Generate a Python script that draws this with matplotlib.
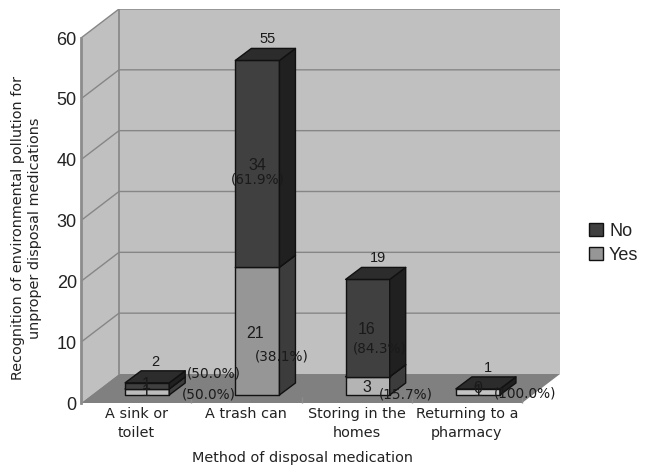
import matplotlib
matplotlib.use('Agg')
import matplotlib.pyplot as plt
from matplotlib.patches import Polygon, Patch

# data
categories = ['A sink or\ntoilet', 'A trash can', 'Storing in the\nhomes', 'Returning to a\npharmacy']
yes_counts = [1, 21, 3, 0]
no_counts = [1, 34, 16, 1]
totals = [2, 55, 19, 1]
yes_pct = ['(50.0%)', '(38.1%)', '(15.7%)', '']
no_pct = ['(50.0%)', '(61.9%)', '(84.3%)', '(100.0%)']

# face colours, front face differs a bit from bar to bar
yes_front = ['#bcbcbc', '#969696', '#b4b4b4', '#c4c4c4']
no_front = ['#404040', '#404040', '#404040', '#c4c4c4']
yes_side = '#3c3c3c'
no_side = '#202020'
top_col = '#2c2c2c'

W, H = 648, 468
PX_X = 110.25  # pixels per category
PX_Y = 6.083   # pixels per count
wall_dx = 38 / PX_X
wall_dy = 29 / PX_Y
bar_dx = 16 / PX_X
bar_dy = 12 / PX_Y
bar_x0 = 0.4
bar_w = 0.4
bar_y0 = 8 / PX_Y

fig = plt.figure(figsize=(W / 100, H / 100), dpi=100, facecolor='white')
ax = fig.add_axes([81 / W, (H - 403) / H, 479 / W, 394 / H])
ax.set_xlim(0, 4 + wall_dx)
ax.set_ylim(0, 60 + wall_dy)
for s in ax.spines.values():
    s.set_visible(False)
ax.patch.set_visible(False)

# walls and floor
ax.add_patch(Polygon([(wall_dx, wall_dy), (4 + wall_dx, wall_dy), (4 + wall_dx, 60 + wall_dy), (wall_dx, 60 + wall_dy)],
                     fc='#c0c0c0', ec='none', zorder=1))
ax.add_patch(Polygon([(0, 0), (wall_dx, wall_dy), (wall_dx, 60 + wall_dy), (0, 60)],
                     fc='#c0c0c0', ec='none', zorder=1))
ax.add_patch(Polygon([(0, 0), (4, 0), (4 + wall_dx, wall_dy), (wall_dx, wall_dy)],
                     fc='#808080', ec='none', zorder=1))

# gridlines run across the back wall and down the side wall
for v in range(10, 61, 10):
    ax.plot([0, wall_dx, 4 + wall_dx], [v, v + wall_dy, v + wall_dy], color='#868686', lw=1, zorder=2)
ax.plot([wall_dx, wall_dx], [wall_dy, 60 + wall_dy], color='#868686', lw=1.2, zorder=2)
ax.plot([0, 0], [0, 60], color='#8c8c8c', lw=2, zorder=2, clip_on=False)


def draw_segment(i, base, height, front, side, z):
    x0 = i + bar_x0
    x1 = x0 + bar_w
    y0 = bar_y0 + base
    y1 = y0 + height
    kw = dict(ec='#111111', lw=1, joinstyle='round', zorder=z)
    ax.add_patch(Polygon([(x0, y0), (x1, y0), (x1, y1), (x0, y1)], fc=front, **kw))
    ax.add_patch(Polygon([(x1, y0), (x1 + bar_dx, y0 + bar_dy), (x1 + bar_dx, y1 + bar_dy), (x1, y1)], fc=side, **kw))
    ax.add_patch(Polygon([(x0, y1), (x1, y1), (x1 + bar_dx, y1 + bar_dy), (x0 + bar_dx, y1 + bar_dy)], fc=top_col, **kw))


for i in range(4):
    if yes_counts[i] > 0:
        draw_segment(i, 0, yes_counts[i], yes_front[i], yes_side, 3)
    draw_segment(i, yes_counts[i], no_counts[i], no_front[i], no_side, 3)

# axes text
tick_font = 'Liberation Sans'
ax.set_yticks(range(0, 61, 10))
ax.tick_params(axis='y', length=0, pad=3, labelsize=13, labelcolor='#222222')
for t in ax.get_yticklabels():
    t.set_fontfamily(tick_font)
ax.set_xticks([i + 0.5 for i in range(4)])
ax.set_xticklabels(categories, fontsize=10.4, color='#222222', linespacing=1.45)
ax.tick_params(axis='x', length=0, pad=3)
ax.set_xticks(range(5), minor=True)
ax.tick_params(axis='x', which='minor', direction='in', length=4, color='#8c8c8c', width=1)

fig.text(302 / W, 1 - 458 / H, 'Method of disposal medication', ha='center', va='center', fontsize=10.4, color='#222222')
fig.text(26.5 / W, 1 - 228 / H, 'Recognition of environmental pollution for\nunproper disposal medications',
         rotation=90, ha='center', va='center', multialignment='center', fontsize=10.4, color='#222222', linespacing=1.3)


def label(i, base, txt, dx, dy, size=9.8, font='DejaVu Sans'):
    # text placed relative to the centre of a bar's front face
    ax.annotate(txt, (i + bar_x0 + bar_w / 2, bar_y0 + base), xytext=(dx * 0.72, -dy * 0.72),
                textcoords='offset points', ha='center', va='center', fontsize=size,
                family=font, color='#1a1a1a', zorder=5, annotation_clip=False)


# pixel offsets of the labels from their segment centres
yes_count_off = [(-1, 0), (-2, 2), (-1, 1.5), (0, -6)]
no_count_off = [(-1, -1), (0, 2), (-1, 1.5), (0, 0)]
yes_pct_off = [(62, 3), (24, 25), (38, 9), (0, 0)]
no_pct_off = [(67, -12), (0, 16), (12, 20), (47, 2)]
total_off = [(8, -9), (10, -9), (10, -9), (10, -9)]

for i in range(4):
    label(i, totals[i] + bar_dy, str(totals[i]), *total_off[i], 10.5, tick_font)
    label(i, yes_counts[i] / 2, str(yes_counts[i]), *yes_count_off[i], 11.5, tick_font)
    label(i, yes_counts[i] + no_counts[i] / 2, str(no_counts[i]), *no_count_off[i], 11.5, tick_font)
    if yes_pct[i]:
        label(i, yes_counts[i] / 2, yes_pct[i], *yes_pct_off[i])
    label(i, yes_counts[i] + no_counts[i] / 2, no_pct[i], *no_pct_off[i])

handles = [Patch(fc='#404040', ec='#111111', label='No'), Patch(fc='#969696', ec='#111111', label='Yes')]
fig.legend(handles=handles, loc='center left', bbox_to_anchor=(573 / W, 1 - 243.5 / H), frameon=False,
           prop={'family': tick_font, 'size': 13}, handlelength=0.75, handleheight=0.75,
           handletextpad=0.35, labelspacing=0.38, labelcolor='#222222')

fig.savefig('out.png', dpi=100)
